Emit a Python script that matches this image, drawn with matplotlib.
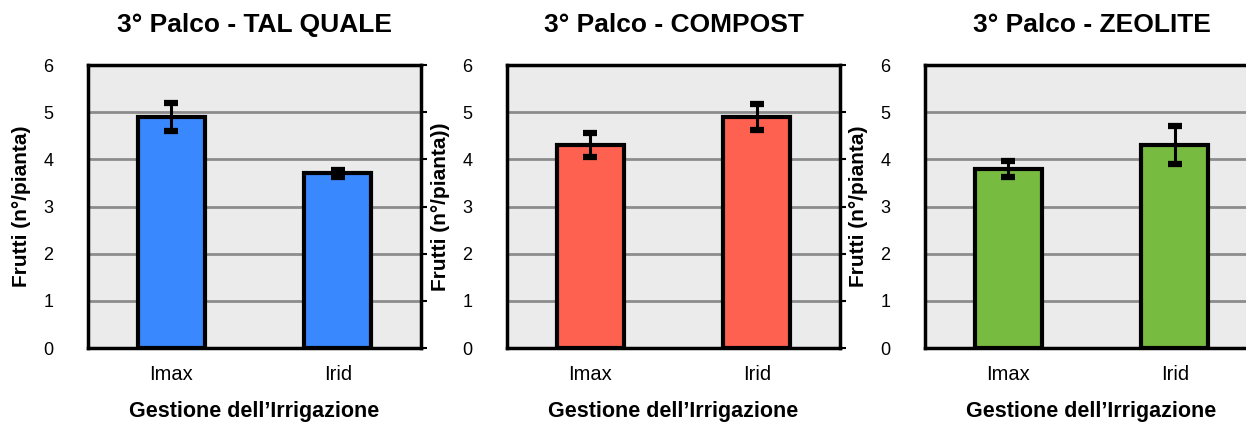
import matplotlib.pyplot as plt

# --- data ---
categories = ["Imax", "Irid"]
titles = ["3° Palco - TAL QUALE", "3° Palco - COMPOST", "3° Palco - ZEOLITE"]
ylabels = ["Frutti (n°/pianta)", "Frutti (n°/pianta))", "Frutti (n°/pianta)"]
tal_quale = [4.9, 3.7]
tal_quale_err = [0.3, 0.07]
compost = [4.3, 4.9]
compost_err = [0.26, 0.28]
zeolite = [3.8, 4.3]
zeolite_err = [0.17, 0.4]
colors = ["#3a88fe", "#ff6150", "#77bb41"]

plt.rcParams.update({
    "font.family": ["Liberation Sans", "DejaVu Sans"],
})

fig = plt.figure(figsize=(12.46, 4.23), dpi=100)
lefts = [88, 507, 925]
series = [(tal_quale, tal_quale_err), (compost, compost_err), (zeolite, zeolite_err)]

for i, (vals, errs) in enumerate(series):
    ax = fig.add_axes([lefts[i] / 1246, 75 / 423, 333 / 1246, 283 / 423])
    ax.set_facecolor("#ebebeb")
    x = range(len(categories))
    ax.bar(x, vals, width=0.4, color=colors[i], edgecolor="black", linewidth=3, zorder=3)
    ax.errorbar(x, vals, yerr=errs, fmt="none", ecolor="black", elinewidth=2.2,
                capsize=5, capthick=4.5, zorder=4)
    ax.set_xlim(-0.5, 1.5)
    ax.set_ylim(0, 6)
    ax.set_yticks(range(0, 7))
    ax.set_xticks(list(x))
    ax.set_xticklabels(categories)
    ax.yaxis.grid(True, color="#8c8c8c", linewidth=2)
    ax.set_axisbelow(True)
    for sp in ax.spines.values():
        sp.set_linewidth(2.5)
        sp.set_color("black")
    ax.tick_params(axis="y", left=False, right=True, direction="out", length=4,
                   width=1.5, labelsize=13, pad=21)
    ax.tick_params(axis="x", bottom=False, labelsize=14.5, pad=9)
    ax.set_title(titles[i], fontsize=19, fontweight="bold", pad=24)
    ax.set_xlabel("Gestione dell’Irrigazione", fontsize=15.5, fontweight="bold", labelpad=12)
    ax.set_ylabel(ylabels[i], fontsize=15, fontweight="bold", labelpad=9)

fig.savefig("out.png", dpi=100)
plt.close()
